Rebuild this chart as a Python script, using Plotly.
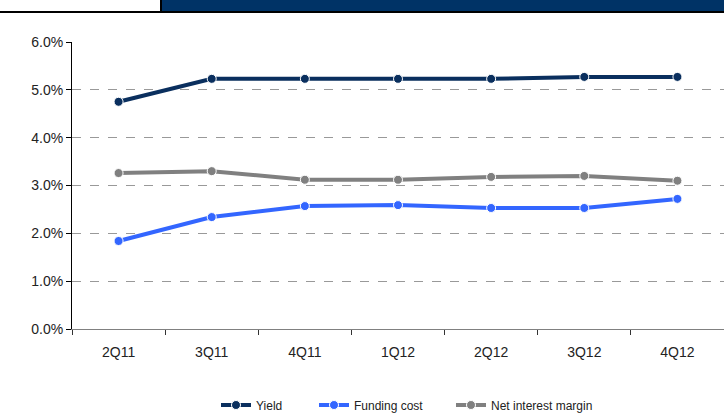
import plotly.graph_objects as go

quarters = ["2Q11", "3Q11", "4Q11", "1Q12", "2Q12", "3Q12", "4Q12"]
yield_pct = [4.75, 5.23, 5.23, 5.23, 5.23, 5.27, 5.27]
funding_cost = [1.84, 2.34, 2.57, 2.59, 2.53, 2.53, 2.72]
net_interest_margin = [3.26, 3.30, 3.12, 3.12, 3.18, 3.20, 3.10]

series = [
    ("Yield", yield_pct, "#0a2f5e", "legend", 216),
    ("Funding cost", funding_cost, "#3366ff", "legend2", 314),
    ("Net interest margin", net_interest_margin, "#808080", "legend3", 451),
]

L, R, T, B = 72, 0, 42, 86
PW, PH = 724 - L - R, 415 - T - B

fig = go.Figure()
legends = {}
for name, vals, color, lg, lx in series:
    fig.add_trace(go.Scatter(
        x=quarters, y=[v / 100 for v in vals], name=name, mode="lines+markers",
        line=dict(color=color, width=4),
        marker=dict(size=9, color=color, line=dict(color="white", width=1)),
        legend=lg,
    ))
    legends[lg] = dict(orientation="h", x=(lx - L) / PW, xanchor="left",
                       y=-76 / PH, yanchor="middle", font=dict(size=12, color="#222"),
                       bgcolor="rgba(0,0,0,0)")

fig.update_layout(
    width=724, height=415,
    margin=dict(l=L, r=R, t=T, b=B, autoexpand=False),
    paper_bgcolor="white", plot_bgcolor="white",
    font=dict(family="Liberation Sans, Arial, sans-serif", size=14, color="#222"),
    showlegend=True,
    xaxis=dict(
        type="category", showgrid=False, showline=True, linecolor="#808080", linewidth=1,
        ticks="outside", tickson="boundaries", ticklen=5, tickcolor="#333",
        range=[-0.5, 6.5], tickfont=dict(size=14), zeroline=False, ticklabelstandoff=10,
    ),
    yaxis=dict(
        range=[0, 0.06], dtick=0.01, tickformat=".1%", showline=True, linecolor="black",
        linewidth=1, ticks="outside", ticklen=5, tickcolor="black",
        showgrid=True, gridcolor="#999999", griddash="dash", gridwidth=1,
        zeroline=False, tickfont=dict(size=14),
    ),
    shapes=[
        dict(type="rect", xref="paper", yref="paper", x0=(162 - L) / PW, x1=1.0,
             y0=1 + 31 / PH, y1=1 + 42 / PH,
             fillcolor="#003366", line=dict(width=0), layer="above"),
        dict(type="line", xref="paper", yref="paper", x0=-L / PW, x1=1.0,
             y0=1 + 30 / PH, y1=1 + 30 / PH, line=dict(color="black", width=2)),
        dict(type="line", xref="paper", yref="paper", x0=(161 - L) / PW, x1=(161 - L) / PW,
             y0=1 + 30 / PH, y1=1 + 42 / PH, line=dict(color="black", width=2)),
    ],
    **legends,
)

fig.write_html("out.html", config={"displayModeBar": False},
               post_script="document.body.style.margin='0';document.body.style.overflow='hidden';")
